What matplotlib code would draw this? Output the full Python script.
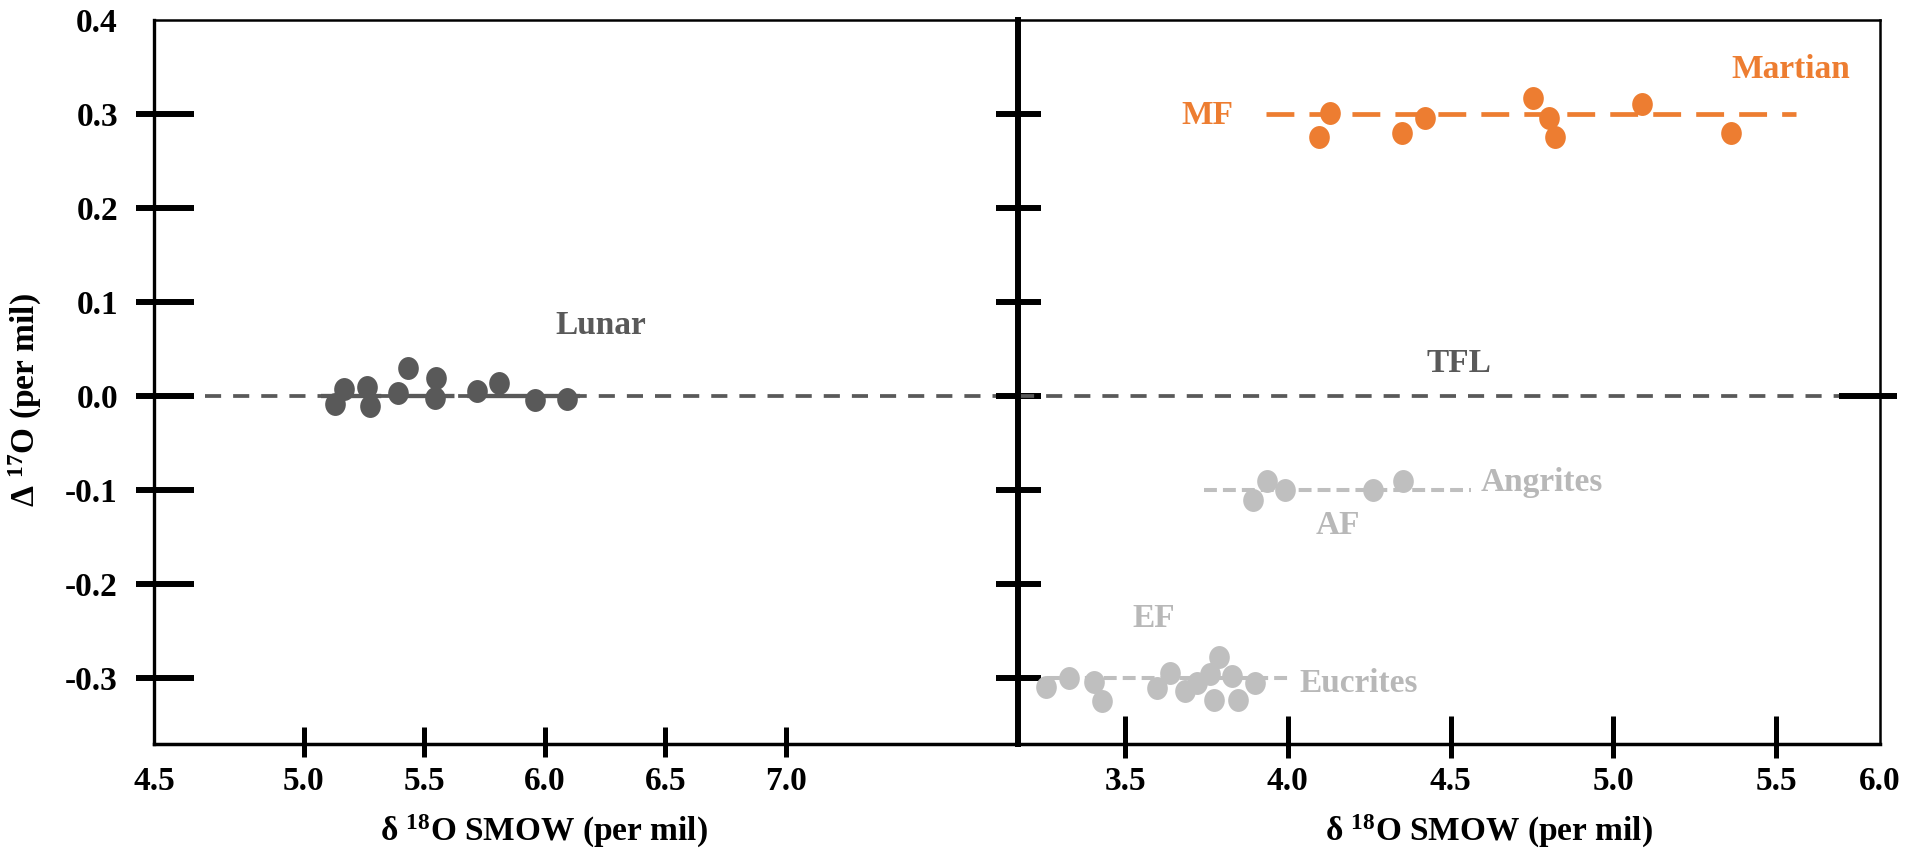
import matplotlib
matplotlib.use("Agg")
import matplotlib.pyplot as plt
from matplotlib.ticker import FixedLocator
from matplotlib.path import Path
from matplotlib.transforms import Affine2D

plt.rcParams['font.family'] = ['Liberation Serif', 'DejaVu Serif']
plt.rcParams['font.weight'] = 'bold'
plt.rcParams['axes.labelweight'] = 'bold'
plt.rcParams['mathtext.fontset'] = 'custom'
plt.rcParams['mathtext.rm'] = 'Liberation Serif:bold'
plt.rcParams['mathtext.default'] = 'rm'

# --- data (d18O SMOW, D17O, per mil) ---
lunar_d18O = [5.13, 5.165, 5.26, 5.275, 5.39, 5.43, 5.55, 5.545, 5.72, 5.81, 5.96, 6.09]
lunar_D17O = [-0.008, 0.008, 0.010, -0.011, 0.003, 0.030, 0.019, -0.002, 0.005, 0.014, -0.004, -0.003]

martian_d18O = [4.129, 4.096, 4.351, 4.422, 4.753, 4.803, 4.821, 5.087, 5.362]
martian_D17O = [0.301, 0.276, 0.280, 0.296, 0.317, 0.296, 0.276, 0.311, 0.280]

angrite_d18O = [3.894, 3.936, 3.990, 4.261, 4.354]
angrite_D17O = [-0.110, -0.090, -0.100, -0.100, -0.090]

eucrite_d18O = [3.257, 3.327, 3.406, 3.429, 3.598, 3.637, 3.685, 3.721,
                3.762, 3.787, 3.772, 3.828, 3.847, 3.900]
eucrite_D17O = [-0.309, -0.300, -0.304, -0.324, -0.310, -0.295, -0.314, -0.305,
                -0.296, -0.277, -0.323, -0.298, -0.323, -0.305]

# fractionation lines
tfl_left_x = [4.59, 7.97]
tfl_right_x = [3.17, 5.70]
tfl_y = [0.0, 0.0]
lunar_line_x = [5.07, 6.145]
lunar_line_y = [0.0, 0.0]
mf_x = [3.934, 5.561]
mf_y = [0.30, 0.30]
af_x = [3.743, 4.563]
af_y = [-0.10, -0.10]
ef_x = [3.26, 4.00]
ef_y = [-0.30, -0.30]

yticks = [-0.3, -0.2, -0.1, 0.0, 0.1, 0.2, 0.3, 0.4]
left_xticks = [5.0, 5.5, 6.0, 6.5, 7.0]
right_xticks = [3.5, 4.0, 4.5, 5.0, 5.5]

DARK = '#595959'
ORANGE = '#ED7D31'
LIGHT = '#BFBFBF'
LIGHT_TXT = '#B8B8B8'

oval = Path.unit_circle().transformed(Affine2D().scale(0.9, 1.0))
MS = 16.5
FS = 24

fig = plt.figure(figsize=(19.23, 8.56), dpi=100)
W, H = 1923, 856
axL = fig.add_axes([154 / W, 112 / H, 864 / W, 724 / H])
axR = fig.add_axes([1018 / W, 112 / H, 862 / W, 724 / H])

axL.set_xlim(4.378, 7.963)
axR.set_xlim(3.171, 5.819)
for ax in (axL, axR):
    ax.set_ylim(-0.37, 0.4)

# --- left panel: lunar ---
axL.plot(tfl_left_x, tfl_y, color=DARK, lw=2.7, dashes=(4.3, 3.2), zorder=2)
axL.plot(lunar_line_x, lunar_line_y, color=DARK, lw=3.1, dashes=(14, 3), zorder=2)
axL.plot(lunar_d18O, lunar_D17O, ls='none', marker=oval, ms=MS, mew=0,
         color=DARK, zorder=3)
axL.text(6.232, 0.075, 'Lunar', color=DARK, fontsize=FS, ha='center', va='center')

# --- right panel ---
axR.plot(tfl_right_x, tfl_y, color=DARK, lw=2.7, dashes=(4.3, 3.2), zorder=2)
axR.plot(mf_x, mf_y, color=ORANGE, lw=3.4, dashes=(5.9, 3.2), zorder=2)
axR.plot(af_x, af_y, color=LIGHT, lw=2.9, dashes=(3.2, 1.5), zorder=2)
axR.plot(ef_x, ef_y, color=LIGHT, lw=2.9, dashes=(3.2, 1.5), zorder=2)
axR.plot(martian_d18O, martian_D17O, ls='none', marker=oval, ms=MS, mew=0,
         color=ORANGE, zorder=3)
axR.plot(angrite_d18O, angrite_D17O, ls='none', marker=oval, ms=MS, mew=0,
         color=LIGHT, zorder=3)
axR.plot(eucrite_d18O, eucrite_D17O, ls='none', marker=oval, ms=MS, mew=0,
         color=LIGHT, zorder=3)

axR.text(4.526, 0.035, 'TFL', color=DARK, fontsize=FS, ha='center', va='center')
axR.text(3.752, 0.298, 'MF', color=ORANGE, fontsize=FS, ha='center', va='center')
axR.text(5.546, 0.347, 'Martian', color=ORANGE, fontsize=FS, ha='center', va='center')
axR.text(4.780, -0.092, 'Angrites', color=LIGHT_TXT, fontsize=FS, ha='center', va='center')
axR.text(4.155, -0.138, 'AF', color=LIGHT_TXT, fontsize=FS, ha='center', va='center')
axR.text(3.587, -0.236, 'EF', color=LIGHT_TXT, fontsize=FS, ha='center', va='center')
axR.text(4.218, -0.306, 'Eucrites', color=LIGHT_TXT, fontsize=FS, ha='center', va='center')

# --- spines ---
axL.spines['right'].set_visible(False)
axL.spines['left'].set_linewidth(2.4)
axL.spines['bottom'].set_linewidth(2.5)
axL.spines['top'].set_linewidth(1.8)
axR.spines['left'].set_linewidth(4.3)
axR.spines['bottom'].set_linewidth(2.5)
axR.spines['top'].set_linewidth(1.8)
axR.spines['right'].set_linewidth(1.8)

# --- ticks: major = inner part (with labels), minor = outer part ---
tick_y = yticks[:-1]
axL.yaxis.set_major_locator(FixedLocator(yticks))
axL.set_yticklabels([f'{v:.1f}' for v in yticks])
axL.yaxis.set_minor_locator(FixedLocator(tick_y))
axL.yaxis.remove_overlapping_locs = False
axL.tick_params(axis='y', which='major', direction='in', length=28.8, width=4.3,
                pad=26, labelsize=FS)
axL.tick_params(axis='y', which='minor', direction='out', length=13, width=4.3)
axL.yaxis.get_major_ticks()[-1].tick1line.set_visible(False)

axL.xaxis.set_major_locator(FixedLocator(left_xticks))
axL.set_xticklabels([f'{v:.1f}' for v in left_xticks])
axL.xaxis.set_minor_locator(FixedLocator(left_xticks))
axL.xaxis.remove_overlapping_locs = False
axL.tick_params(axis='x', which='major', direction='in', length=12.2, width=3.6,
                pad=16, labelsize=FS)
axL.tick_params(axis='x', which='minor', direction='out', length=9.4, width=3.6)
axL.annotate('4.5', xy=(0, 0), xycoords='axes fraction', xytext=(0, -16),
             textcoords='offset points', ha='center', va='top', fontsize=FS)

axR.yaxis.set_major_locator(FixedLocator(tick_y))
axR.yaxis.set_minor_locator(FixedLocator([]))
axR.tick_params(axis='y', which='major', direction='inout', length=32.4, width=4.3,
                labelleft=False)

axR.xaxis.set_major_locator(FixedLocator(right_xticks))
axR.set_xticklabels([f'{v:.1f}' for v in right_xticks])
axR.xaxis.set_minor_locator(FixedLocator(right_xticks))
axR.xaxis.remove_overlapping_locs = False
axR.tick_params(axis='x', which='major', direction='in', length=20, width=3.6,
                pad=16, labelsize=FS)
axR.tick_params(axis='x', which='minor', direction='out', length=10, width=3.6)
axR.annotate('6.0', xy=(1, 0), xycoords='axes fraction', xytext=(0, -16),
             textcoords='offset points', ha='center', va='top', fontsize=FS)

# single tick at 0 on the right-hand frame
axT = axR.twinx()
axT.set_ylim(axR.get_ylim())
for s in axT.spines.values():
    s.set_visible(False)
axT.yaxis.set_major_locator(FixedLocator([0.0]))
axT.yaxis.set_minor_locator(FixedLocator([0.0]))
axT.yaxis.remove_overlapping_locs = False
axT.tick_params(axis='y', which='major', direction='in', length=29.5, width=4.3,
                labelright=False)
axT.tick_params(axis='y', which='minor', direction='out', length=12.2, width=4.3)

# --- axis labels ---
axL.set_ylabel('Δ $^{17}$O (per mil)', fontsize=FS, fontweight='bold', va='center')
axL.yaxis.set_label_coords(-0.149, 0.475)
axL.set_xlabel('δ $^{18}$O SMOW (per mil)', fontsize=FS, fontweight='bold')
axL.xaxis.set_label_coords(0.451, -0.095)
axR.set_xlabel('δ $^{18}$O SMOW (per mil)', fontsize=FS, fontweight='bold')
axR.xaxis.set_label_coords(0.546, -0.095)

fig.savefig('out.png', dpi=100)
